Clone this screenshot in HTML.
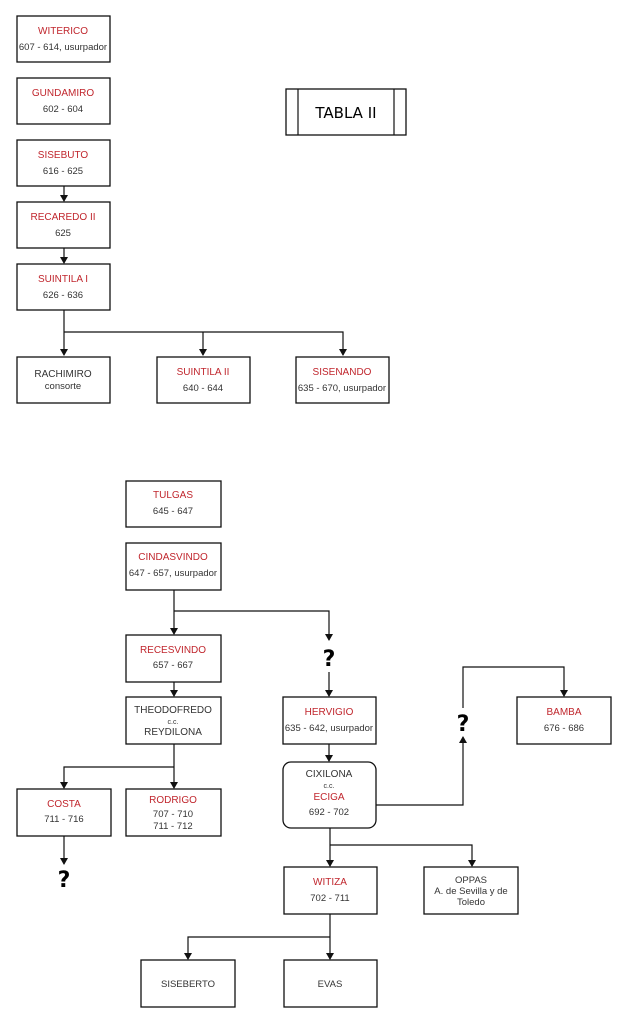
<!DOCTYPE html>
<html><head><meta charset="utf-8"><style>
html,body{margin:0;padding:0;background:#fff;}
svg{display:block;font-family:"Liberation Sans",sans-serif;}
.r{fill:#fff;stroke:#111;stroke-width:1.3;}
.l{fill:none;stroke:#111;stroke-width:1.2;}
.t{font-size:10px;fill:#c0262d;text-anchor:middle;}
.k{font-size:9.5px;fill:#333;text-anchor:middle;}
.q{font-size:22px;font-weight:bold;fill:#000;text-anchor:middle;font-family:"DejaVu Sans",sans-serif;}
</style></head><body>
<svg width="622" height="1023" viewBox="0 0 622 1023">
<defs><marker id="a" markerWidth="8" markerHeight="8" refX="6" refY="4" orient="auto" markerUnits="userSpaceOnUse"><path d="M0,0 L7,4 L0,8 z" fill="#111"/></marker></defs>
<!-- top -->
<rect class="r" x="17" y="16" width="93" height="46"/><text class="t" x="63" y="34">WITERICO</text><text class="k" x="63" y="50">607 - 614, usurpador</text>
<rect class="r" x="17" y="78" width="93" height="46"/><text class="t" x="63" y="96">GUNDAMIRO</text><text class="k" x="63" y="112">602 - 604</text>
<rect class="r" x="17" y="140" width="93" height="46"/><text class="t" x="63" y="158">SISEBUTO</text><text class="k" x="63" y="174">616 - 625</text>
<rect class="r" x="17" y="202" width="93" height="46"/><text class="t" x="63" y="220">RECAREDO II</text><text class="k" x="63" y="236">625</text>
<rect class="r" x="17" y="264" width="93" height="46"/><text class="t" x="63" y="282">SUINTILA I</text><text class="k" x="63" y="298">626 - 636</text>
<line class="l" x1="64" y1="186" x2="64" y2="201" marker-end="url(#a)"/>
<line class="l" x1="64" y1="248" x2="64" y2="263" marker-end="url(#a)"/>
<path class="l" d="M64 310 V355" marker-end="url(#a)"/>
<path class="l" d="M64 332 H343 V355" marker-end="url(#a)"/>
<path class="l" d="M203 332 V355" marker-end="url(#a)"/>
<rect class="r" x="17" y="357" width="93" height="46"/><text class="k" x="63" y="377" style="font-size:10px">RACHIMIRO</text><text class="k" x="63" y="389">consorte</text>
<rect class="r" x="157" y="357" width="93" height="46"/><text class="t" x="203" y="375">SUINTILA II</text><text class="k" x="203" y="391">640 - 644</text>
<rect class="r" x="296" y="357" width="93" height="46"/><text class="t" x="342" y="375">SISENANDO</text><text class="k" x="342" y="391">635 - 670, usurpador</text>
<rect class="r" x="286" y="89" width="120" height="46"/><line class="l" x1="298" y1="89" x2="298" y2="135"/><line class="l" x1="394" y1="89" x2="394" y2="135"/>
<text x="346" y="118" text-anchor="middle" style="font-size:15px;font-family:'DejaVu Sans',sans-serif;">TABLA II</text>
<!-- bottom -->
<rect class="r" x="126" y="481" width="95" height="46"/><text class="t" x="173" y="498">TULGAS</text><text class="k" x="173" y="514">645 - 647</text>
<rect class="r" x="126" y="543" width="95" height="47"/><text class="t" x="173" y="560">CINDASVINDO</text><text class="k" x="173" y="576">647 - 657, usurpador</text>
<path class="l" d="M174 590 V634" marker-end="url(#a)"/>
<path class="l" d="M174 611 H329 V640" marker-end="url(#a)"/>
<text class="q" x="329" y="666">?</text>
<path class="l" d="M329 672 V696" marker-end="url(#a)"/>
<rect class="r" x="126" y="635" width="95" height="47"/><text class="t" x="173" y="653">RECESVINDO</text><text class="k" x="173" y="668">657 - 667</text>
<line class="l" x1="174" y1="682" x2="174" y2="696" marker-end="url(#a)"/>
<rect class="r" x="126" y="697" width="95" height="47"/><text class="k" x="173" y="713" style="font-size:10px">THEODOFREDO</text><text class="k" x="173" y="724" style="font-size:7px">c.c.</text><text class="k" x="173" y="735" style="font-size:10px">REYDILONA</text>
<path class="l" d="M174 744 V788" marker-end="url(#a)"/>
<path class="l" d="M174 767 H64 V788" marker-end="url(#a)"/>
<rect class="r" x="17" y="789" width="94" height="47"/><text class="t" x="64" y="807">COSTA</text><text class="k" x="64" y="822">711 - 716</text>
<rect class="r" x="126" y="789" width="95" height="47"/><text class="t" x="173" y="803">RODRIGO</text><text class="k" x="173" y="817">707 - 710</text><text class="k" x="173" y="829">711 - 712</text>
<path class="l" d="M64 836 V864" marker-end="url(#a)"/>
<text class="q" x="64" y="887">?</text>
<rect class="r" x="283" y="697" width="93" height="47"/><text class="t" x="329" y="715">HERVIGIO</text><text class="k" x="329" y="731">635 - 642, usurpador</text>
<line class="l" x1="329" y1="744" x2="329" y2="761" marker-end="url(#a)"/>
<rect class="r" x="283" y="762" width="93" height="66" rx="8"/><text class="k" x="329" y="777" style="font-size:10px">CIXILONA</text><text class="k" x="329" y="788" style="font-size:7px">c.c.</text><text class="t" x="329" y="800">ECIGA</text><text class="k" x="329" y="815">692 - 702</text>
<path class="l" d="M376 805 H463 V737" marker-end="url(#a)"/>
<text class="q" x="463" y="731">?</text>
<path class="l" d="M463 708 V667 H564 V696" marker-end="url(#a)"/>
<rect class="r" x="517" y="697" width="94" height="47"/><text class="t" x="564" y="715">BAMBA</text><text class="k" x="564" y="731">676 - 686</text>
<path class="l" d="M330 828 V866" marker-end="url(#a)"/>
<path class="l" d="M330 845 H472 V866" marker-end="url(#a)"/>
<rect class="r" x="284" y="867" width="93" height="47"/><text class="t" x="330" y="885">WITIZA</text><text class="k" x="330" y="901">702 - 711</text>
<rect class="r" x="424" y="867" width="94" height="47"/><text class="k" x="471" y="883">OPPAS</text><text class="k" x="471" y="894">A. de Sevilla y de</text><text class="k" x="471" y="905">Toledo</text>
<path class="l" d="M330 914 V959" marker-end="url(#a)"/>
<path class="l" d="M330 937 H188 V959" marker-end="url(#a)"/>
<rect class="r" x="141" y="960" width="94" height="47"/><text class="k" x="188" y="987">SISEBERTO</text>
<rect class="r" x="284" y="960" width="93" height="47"/><text class="k" x="330" y="987">EVAS</text>
</svg>
</body></html>
